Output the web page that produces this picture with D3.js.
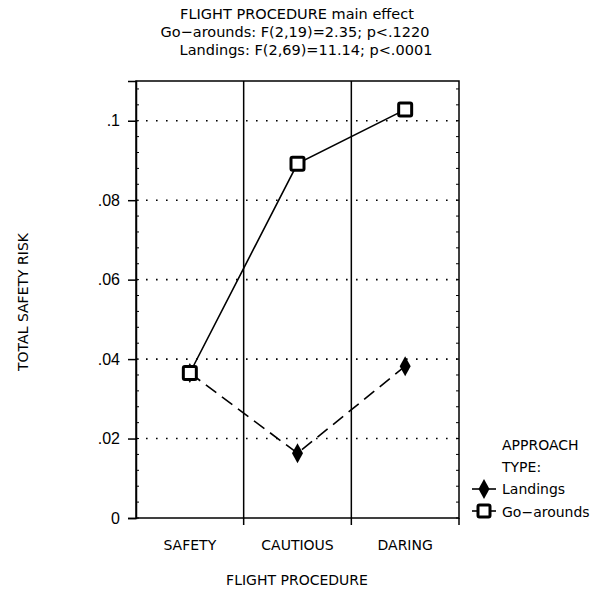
<!DOCTYPE html>
<html><head><meta charset="utf-8">
<script src="https://cdn.jsdelivr.net/npm/d3@7"></script>
<style>body{margin:0;background:#fff}text{font-family:"DejaVu Sans",sans-serif;fill:#000}</style>
</head><body><svg id="c" width="607" height="590"></svg>
<script>
const categories = ["SAFETY","CAUTIOUS","DARING"];
const goArounds = [0.0365, 0.0892, 0.1028];
const landings = [0.0365, 0.0163, 0.0382];
const yTicks = [0, 0.02, 0.04, 0.06, 0.08, 0.1];
const yTickLabels = ["0", ".02", ".04", ".06", ".08", ".1"];
const titleLines = ["FLIGHT PROCEDURE main effect","Go\u2212arounds: F(2,19)=2.35; p<.1220","Landings: F(2,69)=11.14; p<.0001"];

const svg = d3.select("#c");
const L=136,R=459,T=81,B=518;
const x = d3.scaleBand().domain(categories).range([L,R]);
const y = d3.scaleLinear().domain([0,0.11]).range([B,T]);

svg.append("rect").attr("x",L).attr("y",T).attr("width",R-L).attr("height",B-T).attr("fill","none").attr("stroke","#000").attr("stroke-width",1.5);
categories.slice(1).forEach(c=>{
  svg.append("line").attr("x1",x(c)).attr("x2",x(c)).attr("y1",T).attr("y2",B+7).attr("stroke","#000").attr("stroke-width",1.5);
});
svg.append("line").attr("x1",R).attr("x2",R).attr("y1",B).attr("y2",B+7).attr("stroke","#000").attr("stroke-width",1.5);
yTicks.slice(1).forEach(v=>{
  svg.append("line").attr("x1",L).attr("x2",R).attr("y1",y(v)).attr("y2",y(v)).attr("stroke","#000").attr("stroke-width",1.6).attr("stroke-dasharray","1.6 8.4");
});
const yAxis = d3.axisLeft(y).tickValues(yTicks).tickFormat((d,i)=>yTickLabels[i]).tickSize(8).tickPadding(8);
const ga = svg.append("g").attr("transform",`translate(${L},0)`).call(yAxis);
ga.select(".domain").attr("stroke-width",1.5);
ga.selectAll(".tick line").attr("stroke-width",1.5);
ga.selectAll("text").style("font-size","16px").style("font-family","Liberation Sans, Arial, sans-serif");
const minor = d3.range(0,0.1101,0.004);
minor.forEach(v=>{
  svg.append("line").attr("x1",L).attr("x2",L+3).attr("y1",y(v)).attr("y2",y(v)).attr("stroke","#000").attr("stroke-width",1);
  svg.append("line").attr("x1",R-3).attr("x2",R).attr("y1",y(v)).attr("y2",y(v)).attr("stroke","#000").attr("stroke-width",1);
});
categories.forEach(c=>{
  svg.append("text").attr("x",x(c)+x.bandwidth()/2).attr("y",550).attr("text-anchor","middle").style("font-size","14px").text(c);
});
svg.append("text").attr("x",297).attr("y",585).attr("text-anchor","middle").style("font-size","14px").text("FLIGHT PROCEDURE");
svg.append("text").attr("transform","translate(28,302) rotate(-90)").attr("text-anchor","middle").style("font-size","14px").text("TOTAL SAFETY RISK");
const tx=[297,295,306];
titleLines.forEach((t,i)=>{
  svg.append("text").attr("x",tx[i]).attr("y",19+i*18).attr("text-anchor","middle").style("font-size","14.5px").text(t);
});
const cx = c=>x(c)+x.bandwidth()/2;
const line = d3.line().x((d,i)=>cx(categories[i])).y(d=>y(d));
svg.append("path").attr("d",line(landings)).attr("fill","none").attr("stroke","#000").attr("stroke-width",1.6).attr("stroke-dasharray","13 7");
svg.append("path").attr("d",line(goArounds)).attr("fill","none").attr("stroke","#000").attr("stroke-width",1.6);
const diamond = (px,py)=>`M${px},${py-10}L${px+5.5},${py}L${px},${py+10}L${px-5.5},${py}Z`;
landings.forEach((v,i)=>{
  svg.append("path").attr("d",diamond(cx(categories[i]),y(v))).attr("fill","#000");
});
goArounds.forEach((v,i)=>{
  svg.append("rect").attr("x",cx(categories[i])-6.5).attr("y",y(v)-6.5).attr("width",13).attr("height",13).attr("rx",1.5).attr("fill","#fff").attr("stroke","#000").attr("stroke-width",3);
});
const lx=502;
svg.append("text").attr("x",lx).attr("y",450).style("font-size","14px").text("APPROACH");
svg.append("text").attr("x",lx).attr("y",472).style("font-size","14px").text("TYPE:");
svg.append("line").attr("x1",472).attr("x2",496).attr("y1",489).attr("y2",489).attr("stroke","#000").attr("stroke-width",1.6);
svg.append("path").attr("d",diamond(484,489)).attr("fill","#000");
svg.append("text").attr("x",lx).attr("y",494).style("font-size","14px").text("Landings");
svg.append("line").attr("x1",472).attr("x2",496).attr("y1",511).attr("y2",511).attr("stroke","#000").attr("stroke-width",1.6);
svg.append("rect").attr("x",484-6).attr("y",511-6).attr("width",12).attr("height",12).attr("rx",1.5).attr("fill","#fff").attr("stroke","#000").attr("stroke-width",3);
svg.append("text").attr("x",lx).attr("y",517).style("font-size","14px").text("Go\u2212arounds");
</script></body></html>
